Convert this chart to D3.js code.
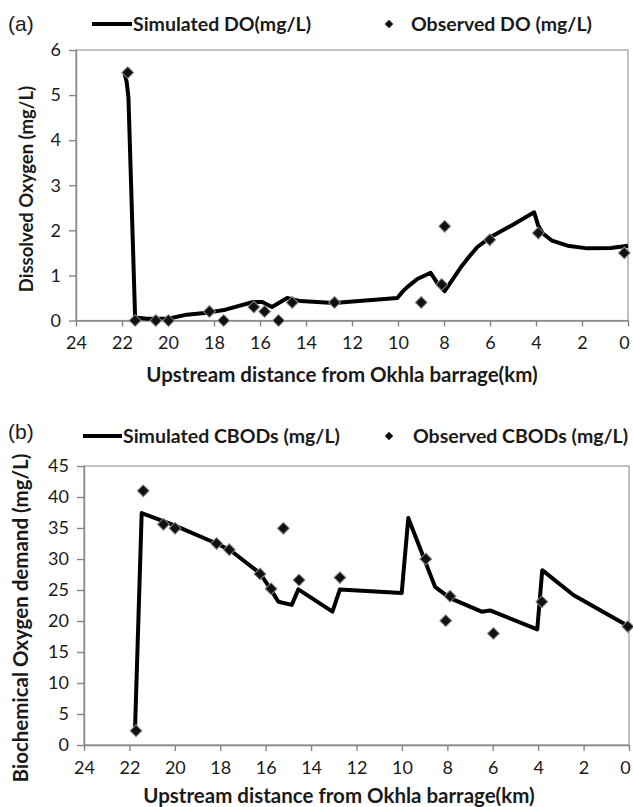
<!DOCTYPE html>
<html>
<head>
<meta charset="utf-8">
<script src="https://cdn.jsdelivr.net/npm/d3@7"></script>
<style>
    body { margin: 0; background: #fff; }
    text { font-family: Lato, "Open Sans", sans-serif; fill: #1a1a1a; }
</style>
</head>
<body>
<svg id="chart" width="633" height="807"></svg>
<script>
// data (km upstream of Okhla barrage)
const xTicks = [24, 22, 20, 18, 16, 14, 12, 10, 8, 6, 4, 2, 0];
const doTicks = [0, 1, 2, 3, 4, 5, 6];
const bodTicks = [0, 5, 10, 15, 20, 25, 30, 35, 40, 45];

const doSimKm = [21.9, 21.8, 21.72, 21.43, 21.3, 20.9, 20.5, 20, 19.18, 18.2, 17.5, 16.3, 15.9, 15.48, 14.82, 14.24, 12.79, 10.03, 9.8, 9.6, 9.16, 8.58, 8.32, 7.97, 7.6, 7.27, 6.9, 6.55, 5.97, 4.95, 4.08, 3.9, 3.7, 3.3, 2.63, 1.76, 0.74, 0];
const doSim = [5.5, 5.3, 4.95, 0.07, 0.06, 0.04, 0.04, 0.04, 0.13, 0.18, 0.24, 0.41, 0.41, 0.3, 0.5, 0.43, 0.39, 0.5, 0.64, 0.74, 0.92, 1.06, 0.85, 0.65, 0.93, 1.18, 1.42, 1.63, 1.85, 2.14, 2.4, 2.1, 1.93, 1.77, 1.66, 1.6, 1.61, 1.66];
const doObsKm = [21.75, 21.43, 20.53, 19.98, 18.2, 17.58, 16.27, 15.8, 15.19, 14.6, 12.76, 8.99, 8.1, 7.97, 6.01, 3.9, 0.16];
const doObs = [5.5, 0, 0, 0, 0.2, 0, 0.3, 0.2, 0, 0.4, 0.4, 0.4, 0.8, 2.09, 1.79, 1.94, 1.5];

const bodSimKm = [21.75, 21.46, 20.07, 18.16, 17.57, 16.25, 15.81, 15.44, 14.85, 14.56, 13.06, 12.73, 10.01, 9.72, 9.06, 8.54, 7.88, 6.49, 6.12, 4.04, 3.82, 2.45, 0];
const bodSim = [2.9, 37.4, 35.5, 32.5, 31.45, 27.7, 25.3, 23.1, 22.6, 25.1, 21.5, 25.1, 24.5, 36.6, 30.4, 25.5, 23.7, 21.5, 21.7, 18.65, 28.2, 24.2, 19.1];
const bodObsKm = [21.71, 21.39, 20.5, 19.99, 18.16, 17.6, 16.25, 15.76, 15.22, 14.53, 12.73, 8.95, 8.07, 7.88, 5.97, 3.84, 0.05];
const bodObs = [2.3, 41.0, 35.6, 34.95, 32.5, 31.5, 27.6, 25.2, 34.95, 26.6, 27.0, 30.0, 20.05, 24.0, 18.0, 23.1, 19.1];

const svg = d3.select("#chart");
const axisColor = "#868686";
const diamond = d3.symbol().type(d3.symbolSquare).size(70);

const drawPanel = (cfg) => {
    const x = d3.scaleLinear().domain([24, 0]).range([cfg.left, cfg.right]);
    const y = d3.scaleLinear().domain([0, cfg.yMax]).range([cfg.bottom, cfg.top]);

    // plot border
    svg.append("rect")
        .attr("x", cfg.left)
        .attr("y", cfg.top)
        .attr("width", cfg.right - cfg.left)
        .attr("height", cfg.bottom - cfg.top)
        .attr("fill", "none")
        .attr("stroke", "#9a9a9a")
        .attr("stroke-width", 1.2);

    // axes
    const xAxis = svg.append("g")
        .attr("transform", `translate(0, ${cfg.bottom})`)
        .call(d3.axisBottom(x).tickValues(xTicks).tickSize(6).tickSizeOuter(0).tickPadding(10));
    const yAxis = svg.append("g")
        .attr("transform", `translate(${cfg.left}, 0)`)
        .call(d3.axisLeft(y).tickValues(cfg.yTicks).tickFormat(d3.format("d"))
            .tickSize(7).tickSizeOuter(0).tickPadding(8));
    [xAxis, yAxis].forEach((g) => {
        g.selectAll("path, line").attr("stroke", axisColor).attr("stroke-width", 1.4);
        g.selectAll("text")
            .attr("fill", "#1a1a1a")
            .style("font-size", "18px")
            .style("font-family", "Lato, sans-serif");
    });
    // the "0" label sits on the page edge, nudge it in
    xAxis.selectAll(".tick text").filter((d) => d === 0).attr("dx", -4);

    // simulated line
    const simPts = cfg.simKm.map((k, i) => [k, cfg.sim[i]]);
    svg.append("path")
        .datum(simPts)
        .attr("fill", "none")
        .attr("stroke", "#000")
        .attr("stroke-width", 4)
        .attr("stroke-linejoin", "round")
        .attr("d", d3.line().x((d) => x(d[0])).y((d) => y(d[1])));

    // observed markers
    svg.selectAll(null)
        .data(cfg.obsKm.map((k, i) => [k, cfg.obs[i]]))
        .enter()
        .append("path")
        .attr("d", diamond)
        .attr("transform", (d) => `translate(${x(d[0])}, ${y(d[1])}) rotate(45)`)
        .attr("fill", "#111")
        .attr("stroke", "#8a8a8a")
        .attr("stroke-width", 1);

    // axis titles
    svg.append("text")
        .attr("x", cfg.xTitleX)
        .attr("y", cfg.xTitleY)
        .attr("text-anchor", "middle")
        .style("font-size", "20.5px")
        .style("font-weight", "bold")
        .text("Upstream distance from Okhla barrage(km)");
    svg.append("text")
        .attr("transform", `translate(${cfg.yTitleX}, ${cfg.yTitleMid}) rotate(-90)`)
        .attr("text-anchor", "middle")
        .style("font-size", cfg.yTitleSize)
        .style("font-weight", "bold")
        .text(cfg.yTitle);

    // legend
    const ly = cfg.legendY;
    svg.append("text")
        .attr("x", 8)
        .attr("y", cfg.labelY)
        .attr("dy", "0.35em")
        .style("font-family", "'Liberation Sans', Arial, sans-serif")
        .style("font-size", "21px")
        .text(cfg.label);
    svg.append("line")
        .attr("x1", cfg.legLine[0])
        .attr("x2", cfg.legLine[1])
        .attr("y1", ly)
        .attr("y2", ly)
        .attr("stroke", "#000")
        .attr("stroke-width", 4);
    svg.append("text")
        .attr("x", cfg.legLine[1] + 1)
        .attr("y", ly)
        .attr("dy", "0.35em")
        .style("font-size", "19.5px")
        .style("font-weight", "bold")
        .text(cfg.simName);
    svg.append("path")
        .attr("d", d3.symbol().type(d3.symbolSquare).size(36))
        .attr("transform", `translate(389, ${ly}) rotate(45)`)
        .attr("fill", "#111");
    svg.append("text")
        .attr("x", cfg.obsTextX)
        .attr("y", ly)
        .attr("dy", "0.35em")
        .style("font-size", "19.5px")
        .style("font-weight", "bold")
        .text(cfg.obsName);
};

drawPanel({
    left: 76, right: 628, top: 50, bottom: 320.5,
    yMax: 6, yTicks: doTicks,
    simKm: doSimKm, sim: doSim, obsKm: doObsKm, obs: doObs,
    xTitleX: 342, xTitleY: 382, yTitleX: 33, yTitleMid: 189, yTitleSize: "18.5px",
    yTitle: "Dissolved Oxygen (mg/L)",
    label: "(a)", labelY: 24, legendY: 24, legLine: [92, 132],
    simName: "Simulated DO(mg/L)", obsName: "Observed DO (mg/L)", obsTextX: 411
});

drawPanel({
    left: 84, right: 629, top: 466, bottom: 745,
    yMax: 45, yTicks: bodTicks,
    simKm: bodSimKm, sim: bodSim, obsKm: bodObsKm, obs: bodObs,
    xTitleX: 339, xTitleY: 803, yTitleX: 28, yTitleMid: 618, yTitleSize: "20.5px",
    yTitle: "Biochemical Oxygen demand (mg/L)",
    label: "(b)", labelY: 432, legendY: 436, legLine: [83, 122],
    simName: "Simulated CBODs (mg/L)", obsName: "Observed CBODs (mg/L)", obsTextX: 413
});
</script>
</body>
</html>
